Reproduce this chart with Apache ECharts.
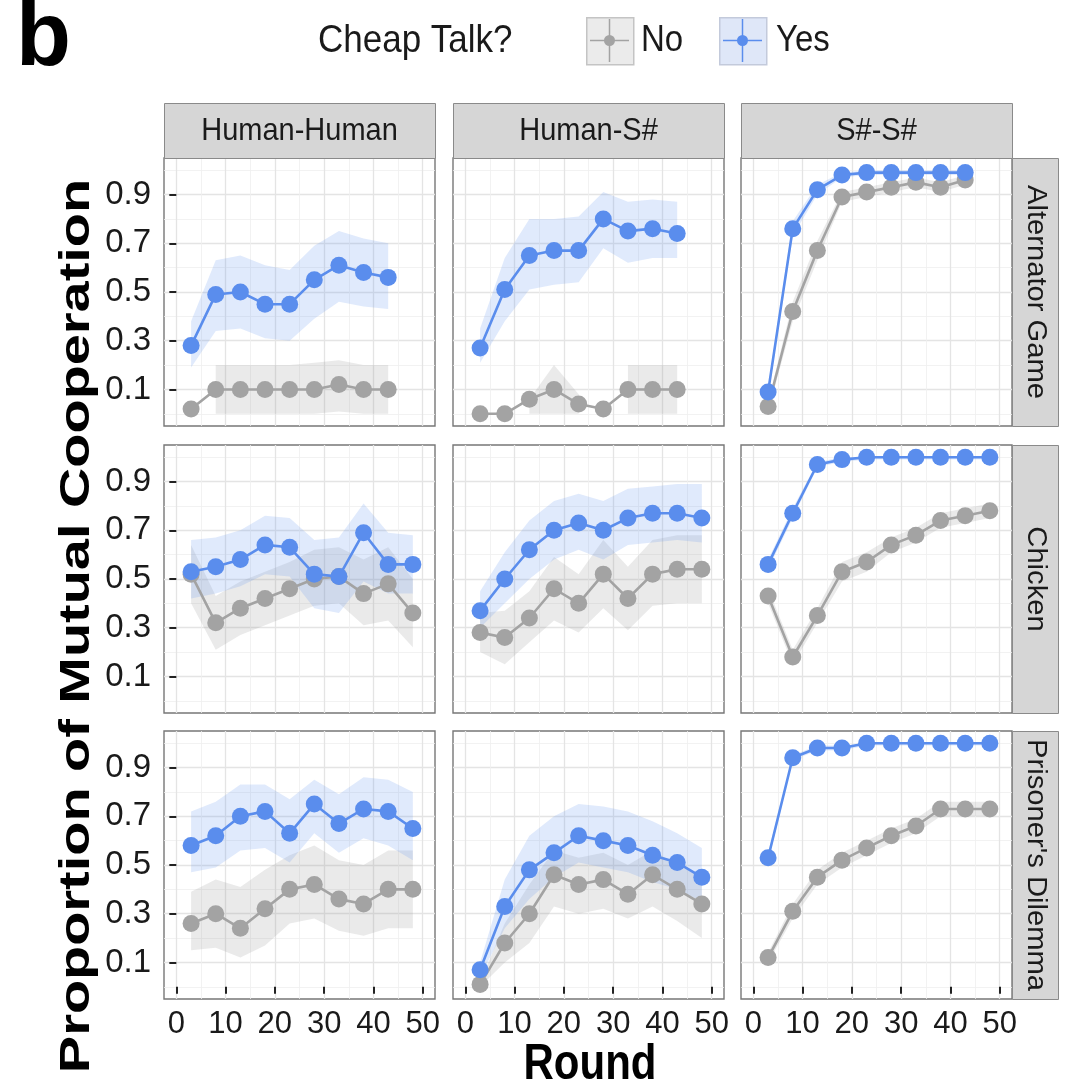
<!DOCTYPE html>
<html><head><meta charset="utf-8">
<script src="https://cdn.jsdelivr.net/npm/echarts@6/dist/echarts.min.js"></script>
<style>html,body{margin:0;padding:0;background:#fff}#c{width:1066px;height:1091px}</style>
</head><body><div id="c"></div>
<script>
// ---------- data ----------
const rounds = [3, 8, 13, 18, 23, 28, 33, 38, 43, 48];
const pairings = ['Human-Human', 'Human-S#', 'S#-S#'];
const games = ['Alternator Game', 'Chicken', "Prisoner's Dilemma"];
const conditions = ['No', 'Yes'];
const xTicks = [0, 10, 20, 30, 40, 50];
const xMinor = [5, 15, 25, 35, 45];
const yTicks = [0.1, 0.3, 0.5, 0.7, 0.9];
const yMinor = [0, 0.2, 0.4, 0.6, 0.8, 1.0];

// Alternator Game
const altHH_no   = [0.02, 0.10, 0.10, 0.10, 0.10, 0.10, 0.12, 0.10, 0.10];
const altHH_noLo = [null, 0.00, 0.00, 0.00, 0.00, 0.00, 0.01, 0.00, 0.00];
const altHH_noHi = [null, 0.20, 0.20, 0.20, 0.20, 0.21, 0.22, 0.20, 0.20];
const altHH_yes   = [0.28, 0.49, 0.50, 0.45, 0.45, 0.55, 0.61, 0.58, 0.56];
const altHH_yesLo = [0.19, 0.34, 0.35, 0.31, 0.30, 0.39, 0.46, 0.44, 0.43];
const altHH_yesHi = [0.38, 0.63, 0.65, 0.61, 0.59, 0.69, 0.75, 0.72, 0.70];

const altHS_no   = [0.00, 0.00, 0.06, 0.10, 0.04, 0.02, 0.10, 0.10, 0.10];
const altHS_noLo = [null, null, 0.00, 0.00, 0.00, null, 0.00, 0.00, 0.00];
const altHS_noHi = [null, null, 0.06, 0.20, 0.08, null, 0.20, 0.20, 0.20];
const altHS_yes   = [0.27, 0.51, 0.65, 0.67, 0.67, 0.80, 0.75, 0.76, 0.74];
const altHS_yesLo = [0.21, 0.38, 0.51, 0.53, 0.54, 0.68, 0.62, 0.64, 0.64];
const altHS_yesHi = [0.35, 0.64, 0.80, 0.80, 0.81, 0.91, 0.87, 0.88, 0.87];

const altSS_no   = [0.03, 0.42, 0.67, 0.89, 0.91, 0.93, 0.95, 0.93, 0.96];
const altSS_noLo = [0.01, 0.38, 0.63, 0.87, 0.89, 0.91, 0.93, 0.91, 0.94];
const altSS_noHi = [0.05, 0.46, 0.71, 0.91, 0.93, 0.95, 0.97, 0.95, 0.98];
const altSS_yes   = [0.09, 0.76, 0.92, 0.98, 0.99, 0.99, 0.99, 0.99, 0.99];
const altSS_yesLo = [0.07, 0.73, 0.90, 0.97, 0.98, 0.98, 0.98, 0.98, 0.98];
const altSS_yesHi = [0.11, 0.79, 0.94, 0.99, 1.00, 1.00, 1.00, 1.00, 1.00];

// Chicken
const chkHH_no   = [0.52, 0.32, 0.38, 0.42, 0.46, 0.50, 0.51, 0.44, 0.48, 0.36];
const chkHH_noLo = [0.40, 0.21, 0.27, 0.31, 0.35, 0.39, 0.40, 0.31, 0.33, 0.22];
const chkHH_noHi = [0.64, 0.43, 0.49, 0.53, 0.57, 0.62, 0.63, 0.58, 0.63, 0.50];
const chkHH_yes   = [0.53, 0.55, 0.58, 0.64, 0.63, 0.52, 0.51, 0.69, 0.56, 0.56];
const chkHH_yesLo = [0.42, 0.44, 0.47, 0.52, 0.51, 0.38, 0.36, 0.49, 0.44, 0.44];
const chkHH_yesHi = [0.66, 0.67, 0.70, 0.76, 0.75, 0.66, 0.67, 0.81, 0.69, 0.68];

const chkHS_no   = [0.28, 0.26, 0.34, 0.46, 0.40, 0.52, 0.42, 0.52, 0.54, 0.54];
const chkHS_noLo = [0.20, 0.15, 0.24, 0.33, 0.28, 0.38, 0.29, 0.39, 0.40, 0.40];
const chkHS_noHi = [0.36, 0.37, 0.45, 0.59, 0.52, 0.66, 0.55, 0.66, 0.68, 0.68];
const chkHS_yes   = [0.37, 0.50, 0.62, 0.70, 0.73, 0.70, 0.75, 0.77, 0.77, 0.75];
const chkHS_yesLo = [0.30, 0.40, 0.50, 0.58, 0.62, 0.58, 0.64, 0.65, 0.66, 0.65];
const chkHS_yesHi = [0.45, 0.61, 0.74, 0.82, 0.85, 0.82, 0.87, 0.88, 0.89, 0.89];

const chkSS_no   = [0.43, 0.18, 0.35, 0.53, 0.57, 0.64, 0.68, 0.74, 0.76, 0.78];
const chkSS_noLo = [0.40, 0.15, 0.32, 0.49, 0.53, 0.61, 0.65, 0.71, 0.73, 0.75];
const chkSS_noHi = [0.46, 0.21, 0.38, 0.57, 0.61, 0.67, 0.71, 0.77, 0.79, 0.81];
const chkSS_yes   = [0.56, 0.77, 0.97, 0.99, 1.00, 1.00, 1.00, 1.00, 1.00, 1.00];
const chkSS_yesLo = [0.54, 0.75, 0.96, 0.98, 0.99, 0.99, 0.99, 0.99, 0.99, 0.99];
const chkSS_yesHi = [0.58, 0.79, 0.98, 1.00, 1.00, 1.00, 1.00, 1.00, 1.00, 1.00];

// Prisoner's Dilemma
const pdHH_no   = [0.26, 0.30, 0.24, 0.32, 0.40, 0.42, 0.36, 0.34, 0.40, 0.40];
const pdHH_noLo = [0.15, 0.16, 0.12, 0.17, 0.26, 0.28, 0.23, 0.21, 0.24, 0.24];
const pdHH_noHi = [0.39, 0.44, 0.41, 0.48, 0.54, 0.58, 0.52, 0.50, 0.56, 0.56];
const pdHH_yes   = [0.58, 0.62, 0.70, 0.72, 0.63, 0.75, 0.67, 0.73, 0.72, 0.65];
const pdHH_yesLo = [0.47, 0.49, 0.56, 0.57, 0.51, 0.63, 0.55, 0.61, 0.58, 0.52];
const pdHH_yesHi = [0.72, 0.76, 0.83, 0.83, 0.77, 0.85, 0.79, 0.86, 0.85, 0.80];

const pdHS_no   = [0.01, 0.18, 0.30, 0.46, 0.42, 0.44, 0.38, 0.46, 0.40, 0.34];
const pdHS_noLo = [0.00, 0.10, 0.18, 0.33, 0.30, 0.32, 0.28, 0.33, 0.27, 0.20];
const pdHS_noHi = [0.02, 0.26, 0.42, 0.56, 0.53, 0.55, 0.50, 0.56, 0.50, 0.45];
const pdHS_yes   = [0.07, 0.33, 0.48, 0.55, 0.62, 0.60, 0.58, 0.54, 0.51, 0.45];
const pdHS_yesLo = [0.04, 0.24, 0.36, 0.45, 0.51, 0.49, 0.47, 0.43, 0.40, 0.35];
const pdHS_yesHi = [0.10, 0.44, 0.62, 0.70, 0.75, 0.74, 0.72, 0.68, 0.63, 0.57];

const pdSS_no   = [0.12, 0.31, 0.45, 0.52, 0.57, 0.62, 0.66, 0.73, 0.73, 0.73];
const pdSS_noLo = [0.10, 0.28, 0.42, 0.49, 0.54, 0.59, 0.63, 0.70, 0.70, 0.70];
const pdSS_noHi = [0.14, 0.34, 0.48, 0.55, 0.60, 0.65, 0.69, 0.76, 0.76, 0.76];
const pdSS_yes   = [0.53, 0.94, 0.98, 0.98, 1.00, 1.00, 1.00, 1.00, 1.00, 1.00];
const pdSS_yesLo = [0.51, 0.93, 0.97, 0.97, 0.99, 0.99, 0.99, 0.99, 0.99, 0.99];
const pdSS_yesHi = [0.55, 0.95, 0.99, 0.99, 1.00, 1.00, 1.00, 1.00, 1.00, 1.00];

// ---------- layout / style ----------
const FONT = '"Liberation Sans", Arial, Helvetica, sans-serif';
const colLeft = [164, 453, 741];
const rowTop = [158, 445, 731];
const PW = 271, PH = 268;
const BLUE = '#5a8ded', GRAY = '#a3a3a3';
const BLUE_FILL = 'rgba(100,150,240,0.20)', GRAY_FILL = 'rgba(140,140,140,0.18)';

const panels = [
  [altHH_no, altHH_noLo, altHH_noHi, altHH_yes, altHH_yesLo, altHH_yesHi],
  [altHS_no, altHS_noLo, altHS_noHi, altHS_yes, altHS_yesLo, altHS_yesHi],
  [altSS_no, altSS_noLo, altSS_noHi, altSS_yes, altSS_yesLo, altSS_yesHi],
  [chkHH_no, chkHH_noLo, chkHH_noHi, chkHH_yes, chkHH_yesLo, chkHH_yesHi],
  [chkHS_no, chkHS_noLo, chkHS_noHi, chkHS_yes, chkHS_yesLo, chkHS_yesHi],
  [chkSS_no, chkSS_noLo, chkSS_noHi, chkSS_yes, chkSS_yesLo, chkSS_yesHi],
  [pdHH_no, pdHH_noLo, pdHH_noHi, pdHH_yes, pdHH_yesLo, pdHH_yesHi],
  [pdHS_no, pdHS_noLo, pdHS_noHi, pdHS_yes, pdHS_yesLo, pdHS_yesHi],
  [pdSS_no, pdSS_noLo, pdSS_noHi, pdSS_yes, pdSS_yesLo, pdSS_yesHi]
];

function ribbonRenderer(lo, hi, fill) {
  return function (params, api) {
    if (params.dataIndex !== 0) return null;
    const children = [];
    let seg = [];
    const flush = () => {
      if (seg.length >= 2) {
        const top = seg.map(i => api.coord([rounds[i], hi[i]]));
        const bot = seg.slice().reverse().map(i => api.coord([rounds[i], lo[i]]));
        children.push({ type: 'polygon', shape: { points: top.concat(bot) }, style: { fill: fill } });
      }
      seg = [];
    };
    for (let i = 0; i < lo.length; i++) {
      if (lo[i] == null || hi[i] == null) flush(); else seg.push(i);
    }
    flush();
    return { type: 'group', children: children };
  };
}

const grids = [], xAxes = [], yAxes = [], series = [];
for (let r = 0; r < 3; r++) {
  for (let c = 0; c < 3; c++) {
    const g = r * 3 + c;
    grids.push({ left: colLeft[c], top: rowTop[r], width: PW, height: PH, show: true,
      backgroundColor: '#ffffff', borderColor: '#777777', borderWidth: 1.4 });
    const bottom = r === 2, left = c === 0;
    xAxes.push({ type: 'value', gridIndex: g, min: -2.5, max: 52.5, position: 'bottom',
      axisLine: { show: false },
      axisTick: { show: bottom, customValues: xTicks, length: 7, lineStyle: { color: '#222', width: 2 } },
      axisLabel: { show: bottom, customValues: xTicks, fontSize: 31, color: '#1a1a1a', margin: 10, fontFamily: FONT },
      splitLine: { show: true, lineStyle: { color: '#e4e4e4', width: 1.3 } } });
    xAxes.push({ type: 'value', gridIndex: g, min: -2.5, max: 52.5, position: 'top',
      axisLine: { show: false },
      axisTick: { show: false, customValues: xMinor },
      axisLabel: { show: false, customValues: xMinor },
      splitLine: { show: true, lineStyle: { color: '#efefef', width: 0.8 } } });
    yAxes.push({ type: 'value', gridIndex: g, min: -0.05, max: 1.05, position: 'left',
      axisLine: { show: false },
      axisTick: { show: left, customValues: yTicks, length: 7, lineStyle: { color: '#222', width: 2 } },
      axisLabel: { show: left, customValues: yTicks, fontSize: 33, color: '#1a1a1a', margin: 13, fontFamily: FONT },
      splitLine: { show: true, lineStyle: { color: '#e4e4e4', width: 1.3 } } });
    yAxes.push({ type: 'value', gridIndex: g, min: -0.05, max: 1.05, position: 'right',
      axisLine: { show: false },
      axisTick: { show: false, customValues: yMinor },
      axisLabel: { show: false, customValues: yMinor },
      splitLine: { show: true, lineStyle: { color: '#efefef', width: 0.8 } } });

    const p = panels[g];
    const xi = g * 2, yi = g * 2;
    const mk = vals => vals.map((v, i) => [rounds[i], v]);
    series.push({ type: 'custom', name: 'No', xAxisIndex: xi, yAxisIndex: yi, silent: true, z: 1,
      data: mk(p[0]), encode: { x: 0, y: 1 }, renderItem: ribbonRenderer(p[1], p[2], GRAY_FILL) });
    series.push({ type: 'custom', name: 'Yes', xAxisIndex: xi, yAxisIndex: yi, silent: true, z: 1,
      data: mk(p[3]), encode: { x: 0, y: 1 }, renderItem: ribbonRenderer(p[4], p[5], BLUE_FILL) });
    series.push({ type: 'line', name: 'No', xAxisIndex: xi, yAxisIndex: yi, z: 3, data: mk(p[0]),
      symbol: 'circle', symbolSize: 17, showSymbol: true,
      lineStyle: { color: GRAY, width: 2.6 }, itemStyle: { color: GRAY } });
    series.push({ type: 'line', name: 'Yes', xAxisIndex: xi, yAxisIndex: yi, z: 4, data: mk(p[3]),
      symbol: 'circle', symbolSize: 17, showSymbol: true,
      lineStyle: { color: BLUE, width: 2.6 }, itemStyle: { color: BLUE } });
  }
}

// strips, titles, legend
const graphics = [];
for (let c = 0; c < 3; c++) {
  graphics.push({ type: 'rect', left: colLeft[c], top: 103, shape: { width: PW, height: 55 },
    style: { fill: '#d6d6d6', stroke: '#8a8a8a', lineWidth: 1 }, z: 10 });
  graphics.push({ type: 'text', x: colLeft[c] + PW / 2, y: 131, z: 11, scaleY: 1.08,
    style: { text: pairings[c], font: '29px ' + FONT, fill: '#1a1a1a', textAlign: 'center', textVerticalAlign: 'middle' } });
}
for (let r = 0; r < 3; r++) {
  graphics.push({ type: 'rect', left: 1012, top: rowTop[r], shape: { width: 46, height: PH },
    style: { fill: '#d6d6d6', stroke: '#8a8a8a', lineWidth: 1 }, z: 10 });
  graphics.push({ type: 'text', x: 1035, y: rowTop[r] + PH / 2, rotation: -Math.PI / 2, scaleX: 1.08, z: 11,
    style: { text: games[r], font: '27px ' + FONT, fill: '#1a1a1a', textAlign: 'center', textVerticalAlign: 'middle' } });
}
graphics.push({ type: 'text', x: 77, y: 626, rotation: Math.PI / 2, scaleX: 1.3, z: 11,
  style: { text: 'Proportion of Mutual Cooperation', font: 'bold 43px ' + FONT, fill: '#000', textAlign: 'center', textVerticalAlign: 'middle' } });
graphics.push({ type: 'text', x: 590, y: 1065, scaleY: 1.18, z: 11,
  style: { text: 'Round', font: 'bold 42px ' + FONT, fill: '#000', textAlign: 'center', textVerticalAlign: 'middle' } });
graphics.push({ type: 'text', x: 16, y: 40, z: 11,
  style: { text: 'b', font: 'bold 90px ' + FONT, fill: '#000', textAlign: 'left', textVerticalAlign: 'middle' } });
graphics.push({ type: 'text', x: 318, y: 41, scaleY: 1.1, z: 11,
  style: { text: 'Cheap Talk?', font: '35px ' + FONT, fill: '#1a1a1a', textAlign: 'left', textVerticalAlign: 'middle' } });
const keyDefs = [
  { x: 586, label: conditions[0], color: GRAY, fill: '#ebebeb', stroke: '#c4c4c4', tx: 641 },
  { x: 719, label: conditions[1], color: BLUE, fill: '#dfe7f8', stroke: '#c3cadb', tx: 776 }
];
keyDefs.forEach(k => {
  graphics.push({ type: 'rect', left: k.x, top: 17, shape: { width: 47, height: 47 },
    style: { fill: k.fill, stroke: k.stroke, lineWidth: 1.5 }, z: 10 });
  graphics.push({ type: 'line', shape: { x1: k.x + 4, y1: 40.5, x2: k.x + 43, y2: 40.5 },
    style: { stroke: k.color, lineWidth: 1.5 }, z: 11 });
  graphics.push({ type: 'line', shape: { x1: k.x + 23.5, y1: 19, x2: k.x + 23.5, y2: 62 },
    style: { stroke: k.color, lineWidth: 1.5 }, z: 11 });
  graphics.push({ type: 'circle', shape: { cx: k.x + 23.5, cy: 40.5, r: 5.5 },
    style: { fill: k.color }, z: 12 });
  graphics.push({ type: 'text', x: k.tx, y: 41, scaleY: 1.1, z: 11,
    style: { text: k.label, font: '33px ' + FONT, fill: '#1a1a1a', textAlign: 'left', textVerticalAlign: 'middle' } });
});

const chart = echarts.init(document.getElementById('c'), null, { renderer: 'canvas' });
chart.setOption({
  animation: false,
  backgroundColor: '#ffffff',
  grid: grids, xAxis: xAxes, yAxis: yAxes, series: series,
  graphic: graphics
});
</script>
</body></html>
